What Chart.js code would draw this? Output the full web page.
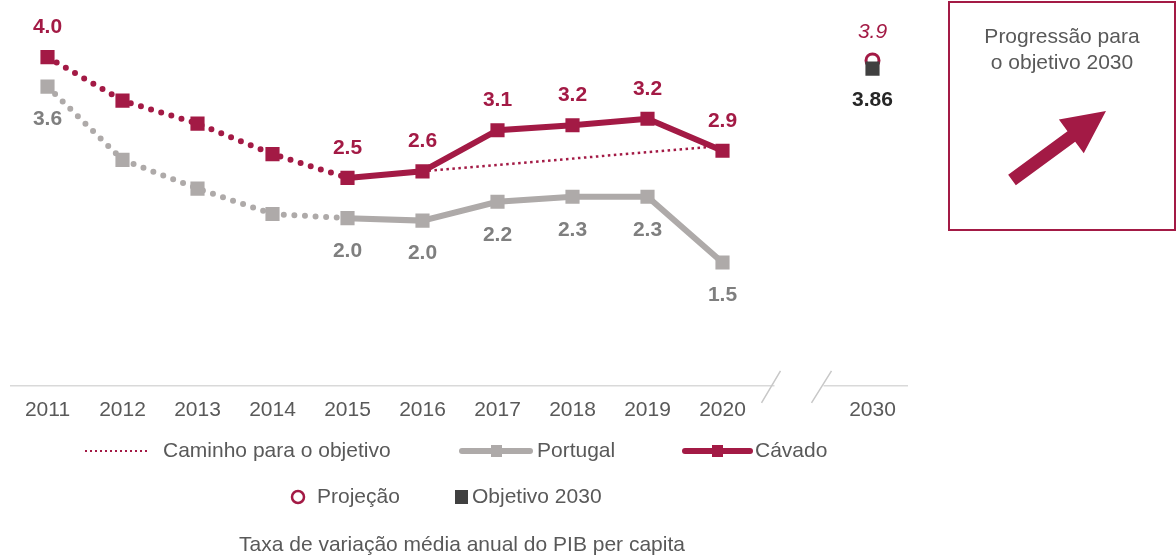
<!DOCTYPE html>
<html>
<head>
<meta charset="utf-8">
<script src="https://cdn.jsdelivr.net/npm/chart.js@4/dist/chart.umd.min.js"></script>
<style>
  html, body { margin: 0; padding: 0; background: #fff; }
  #wrap { position: relative; width: 1176px; height: 557px; }
</style>
</head>
<body>
<div id="wrap"><canvas id="chart" width="1176" height="557"></canvas></div>
<script>
// anos (o índice 10 é o intervalo do eixo partido)
const years = ['2011', '2012', '2013', '2014', '2015', '2016', '2017', '2018', '2019', '2020', '', '2030'];

const cavado   = [4.0, 3.47, 3.19, 2.82, 2.53, 2.61, 3.11, 3.17, 3.25, 2.86, null, null];
const portugal = [3.64, 2.75, 2.40, 2.09, 2.04, 2.01, 2.24, 2.30, 2.30, 1.50, null, null];
const caminho  = [null, null, null, null, null, 2.61, null, null, null, 2.92, null, null];
const projecao = [null, null, null, null, null, null, null, null, null, null, null, 3.96];
const objetivo = [null, null, null, null, null, null, null, null, null, null, null, 3.86];

const cavadoLabels   = ['4.0', '', '', '', '2.5', '2.6', '3.1', '3.2', '3.2', '2.9', '', ''];
const portugalLabels = ['3.6', '', '', '', '2.0', '2.0', '2.2', '2.3', '2.3', '1.5', '', ''];
const projecaoLabel = '3.9';
const objetivoLabel = '3.86';

const RED = '#A31A45';
const GREY = '#AEAAA9';
const GREY_TXT = '#7F7F7F';
const DARK = '#404040';
const TXT = '#595959';
const FONT = '"Liberation Sans", Arial, sans-serif';

// tracejado até 2015, linha contínua depois
const dottedUntil = 4;
const segStyle = (dotted, solid) => ctx => ctx.p0DataIndex < dottedUntil ? dotted : solid;

const extras = {
    id: 'extras',
    afterDatasetsDraw(chart) {
        const ctx = chart.ctx;
        const x = chart.scales.x;
        const bottom = chart.chartArea.bottom;

        // eixo partido
        const gap = x.getPixelForValue(10);
        ctx.save();
        ctx.strokeStyle = '#D9D9D9';
        ctx.lineWidth = 1.5;
        ctx.beginPath();
        ctx.moveTo(chart.chartArea.left, bottom); ctx.lineTo(gap - 23, bottom);
        ctx.moveTo(gap + 26, bottom); ctx.lineTo(chart.chartArea.right - 2, bottom);
        ctx.stroke();
        ctx.strokeStyle = '#C8C8C8';
        ctx.beginPath();
        ctx.moveTo(gap - 36, bottom + 17); ctx.lineTo(gap - 17, bottom - 15);
        ctx.moveTo(gap + 14, bottom + 17); ctx.lineTo(gap + 34, bottom - 15);
        ctx.stroke();

        // rótulos dos dados
        ctx.textAlign = 'center';
        ctx.textBaseline = 'middle';
        ctx.font = 'bold 21px ' + FONT;
        const metaC = chart.getDatasetMeta(0), metaP = chart.getDatasetMeta(1);
        cavadoLabels.forEach((t, i) => {
            if (!t) return;
            const p = metaC.data[i];
            ctx.fillStyle = RED;
            ctx.fillText(t, p.x, p.y - 30);
        });
        portugalLabels.forEach((t, i) => {
            if (!t) return;
            const p = metaP.data[i];
            ctx.fillStyle = GREY_TXT;
            ctx.fillText(t, p.x, p.y + 33);
        });
        const pj = chart.getDatasetMeta(3).data[11];
        ctx.font = 'italic 21px ' + FONT;
        ctx.fillStyle = RED;
        ctx.fillText(projecaoLabel, pj.x, pj.y - 28);
        const ob = chart.getDatasetMeta(4).data[11];
        ctx.font = 'bold 21px ' + FONT;
        ctx.fillStyle = '#262626';
        ctx.fillText(objetivoLabel, ob.x, ob.y + 32);

        // legenda
        ctx.font = '21px ' + FONT;
        ctx.textAlign = 'left';
        ctx.fillStyle = TXT;
        const ly1 = 451, ly2 = 497;
        ctx.strokeStyle = RED; ctx.lineWidth = 2; ctx.setLineDash([2, 3]);
        ctx.beginPath(); ctx.moveTo(85, ly1); ctx.lineTo(149, ly1); ctx.stroke();
        ctx.setLineDash([]);
        ctx.fillText('Caminho para o objetivo', 163, ly1);

        ctx.lineCap = 'round'; ctx.lineWidth = 6;
        ctx.strokeStyle = GREY;
        ctx.beginPath(); ctx.moveTo(462, ly1); ctx.lineTo(530, ly1); ctx.stroke();
        ctx.fillStyle = GREY; ctx.fillRect(491, ly1 - 6, 11, 12);
        ctx.fillStyle = TXT; ctx.fillText('Portugal', 537, ly1);

        ctx.strokeStyle = RED;
        ctx.beginPath(); ctx.moveTo(685, ly1); ctx.lineTo(750, ly1); ctx.stroke();
        ctx.fillStyle = RED; ctx.fillRect(712, ly1 - 6, 11, 12);
        ctx.fillStyle = TXT; ctx.fillText('Cávado', 755, ly1);
        ctx.lineCap = 'butt';

        ctx.strokeStyle = RED; ctx.lineWidth = 2.5;
        ctx.beginPath(); ctx.arc(298, ly2, 6, 0, Math.PI * 2); ctx.stroke();
        ctx.fillText('Projeção', 317, ly2);
        ctx.fillStyle = DARK; ctx.fillRect(455, ly2 - 7, 13, 14);
        ctx.fillStyle = TXT; ctx.fillText('Objetivo 2030', 472, ly2);

        ctx.textAlign = 'center';
        ctx.fillText('Taxa de variação média anual do PIB per capita', 462, 545);

        // caixa da progressão
        ctx.strokeStyle = RED; ctx.lineWidth = 2;
        ctx.strokeRect(949, 2, 226, 228);
        ctx.fillStyle = TXT;
        ctx.fillText('Progressão para', 1062, 37);
        ctx.fillText('o objetivo 2030', 1062, 63);

        // seta
        const tail = [1012, 180], tip = [1106, 111];
        const dx = tip[0] - tail[0], dy = tip[1] - tail[1];
        const len = Math.hypot(dx, dy);
        const ux = dx / len, uy = dy / len, nx = -uy, ny = ux;
        const headLen = 43, shaft = 6.5, head = 21;
        const bx = tip[0] - ux * headLen, by = tip[1] - uy * headLen;
        ctx.fillStyle = RED;
        ctx.beginPath();
        ctx.moveTo(tail[0] + nx * shaft, tail[1] + ny * shaft);
        ctx.lineTo(bx + nx * shaft, by + ny * shaft);
        ctx.lineTo(bx + nx * head, by + ny * head);
        ctx.lineTo(tip[0], tip[1]);
        ctx.lineTo(bx - nx * head, by - ny * head);
        ctx.lineTo(bx - nx * shaft, by - ny * shaft);
        ctx.lineTo(tail[0] - nx * shaft, tail[1] - ny * shaft);
        ctx.closePath();
        ctx.fill();
        ctx.restore();
    }
};

new Chart(document.getElementById('chart'), {
    type: 'line',
    data: {
        labels: years,
        datasets: [
            {
                label: 'Cávado',
                data: cavado,
                borderColor: RED,
                backgroundColor: RED,
                pointStyle: 'rect',
                pointRadius: 10,
                pointBorderWidth: 0,
                borderWidth: 6,
                segment: {
                    borderDash: segStyle([0, 10.6], []),
                    borderWidth: segStyle(6, 6),
                    borderCapStyle: segStyle('round', 'butt')
                },
                order: 2
            },
            {
                label: 'Portugal',
                data: portugal,
                borderColor: GREY,
                backgroundColor: GREY,
                pointStyle: 'rect',
                pointRadius: 10,
                pointBorderWidth: 0,
                borderWidth: 6,
                segment: {
                    borderDash: segStyle([0, 10.6], []),
                    borderWidth: segStyle(6, 6),
                    borderCapStyle: segStyle('round', 'butt')
                },
                order: 4
            },
            {
                label: 'Caminho para o objetivo',
                data: caminho,
                borderColor: RED,
                borderWidth: 2.5,
                borderDash: [2.5, 3.5],
                pointRadius: 0,
                spanGaps: true,
                order: 3
            },
            {
                label: 'Projeção',
                data: projecao,
                borderColor: RED,
                backgroundColor: '#fff',
                pointStyle: 'circle',
                pointRadius: 6.5,
                pointBorderWidth: 3,
                showLine: false,
                order: 1
            },
            {
                label: 'Objetivo 2030',
                data: objetivo,
                borderColor: DARK,
                backgroundColor: DARK,
                pointStyle: 'rect',
                pointRadius: 10,
                pointBorderWidth: 0,
                showLine: false,
                order: 0
            }
        ]
    },
    options: {
        responsive: false,
        animation: false,
        layout: { padding: { left: 10, right: 266, top: 16, bottom: 122 } },
        plugins: { legend: { display: false }, tooltip: { enabled: false } },
        scales: {
            x: {
                offset: true,
                grid: { display: false, drawTicks: false },
                border: { display: false },
                ticks: { color: TXT, font: { family: FONT, size: 21 }, padding: 12, autoSkip: false, maxRotation: 0 }
            },
            y: { display: false, min: 0, max: 4.5 }
        }
    },
    plugins: [extras]
});
</script>
</body>
</html>
